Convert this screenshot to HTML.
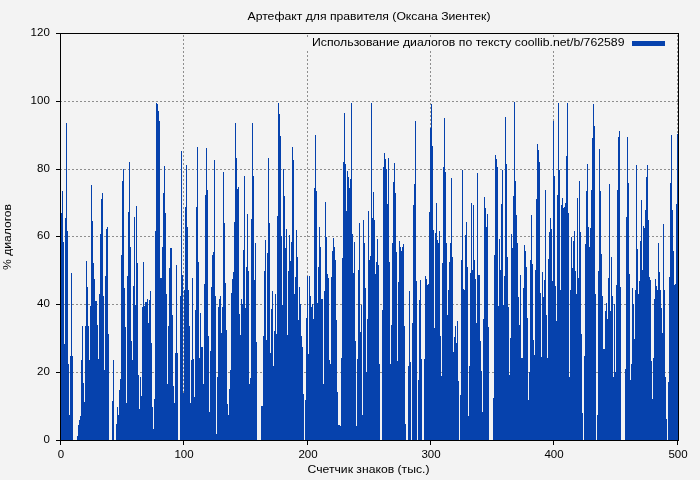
<!DOCTYPE html>
<html><head><meta charset="utf-8"><style>
html,body{margin:0;padding:0;background:#f3f3f3;}
svg{display:block}
.t{font-family:"Liberation Sans",sans-serif;font-size:11.5px;fill:#000}
</style></head><body>
<svg width="700" height="480" viewBox="0 0 700 480">
<rect x="0" y="0" width="700" height="480" fill="#f3f3f3"/>
<line x1="60" x2="678" y1="372.5" y2="372.5" stroke="#8e8e8e" stroke-width="1" stroke-dasharray="2 2" shape-rendering="crispEdges"/>
<line x1="60" x2="678" y1="304.5" y2="304.5" stroke="#8e8e8e" stroke-width="1" stroke-dasharray="2 2" shape-rendering="crispEdges"/>
<line x1="60" x2="678" y1="236.5" y2="236.5" stroke="#8e8e8e" stroke-width="1" stroke-dasharray="2 2" shape-rendering="crispEdges"/>
<line x1="60" x2="678" y1="169.5" y2="169.5" stroke="#8e8e8e" stroke-width="1" stroke-dasharray="2 2" shape-rendering="crispEdges"/>
<line x1="60" x2="678" y1="101.5" y2="101.5" stroke="#8e8e8e" stroke-width="1" stroke-dasharray="2 2" shape-rendering="crispEdges"/>
<line x1="183.5" x2="183.5" y1="441" y2="34" stroke="#8e8e8e" stroke-width="1" stroke-dasharray="2 2" shape-rendering="crispEdges"/>
<line x1="307.5" x2="307.5" y1="441" y2="34" stroke="#8e8e8e" stroke-width="1" stroke-dasharray="2 2" shape-rendering="crispEdges"/>
<line x1="430.5" x2="430.5" y1="441" y2="34" stroke="#8e8e8e" stroke-width="1" stroke-dasharray="2 2" shape-rendering="crispEdges"/>
<line x1="553.5" x2="553.5" y1="441" y2="34" stroke="#8e8e8e" stroke-width="1" stroke-dasharray="2 2" shape-rendering="crispEdges"/>
<line x1="677.5" x2="677.5" y1="441" y2="34" stroke="#8e8e8e" stroke-width="1" stroke-dasharray="2 2" shape-rendering="crispEdges"/>
<rect x="304" y="37" width="370" height="13.5" fill="#f3f3f3"/>
<path d="M61 441V213H62V191H63V242H64V344H65V218H66V123H67V231H68V364H69V415H70V356H71V273H72V356H73V441H74V441H75V441H76V441H77V436H78V425H79V420H80V416H81V360H82V326H83V383H84V402H85V326H86V261H87V287H88V326H89V360H90V306H91V185H92V221H93V263H94V279H95V301H96V301H97V325H98V359H99V294H100V234H101V199H102V193H103V296H104V370H105V276H106V229H107V227H108V334H109V441H110V441H111V441H112V401H113V360H114V441H115V441H116V424H117V407H118V415H119V390H120V379H121V255H122V181H123V169H124V288H125V327H126V403H127V276H128V212H129V162H130V247H131V341H132V360H133V286H134V217H135V305H136V206H137V263H138V375H139V409H140V377H141V396H142V307H143V262H144V306H145V302H146V302H147V299H148V323H149V300H150V291H151V343H152V407H153V429H154V399H155V231H156V103H157V104H158V111H159V121H160V278H161V278H162V247H163V193H164V166H165V213H166V294H167V384H168V326H169V268H170V248H171V248H172V315H173V386H174V403H175V353H176V265H177V353H178V441H179V441H180V296H181V151H182V275H183V393H184V290H185V207H186V165H187V227H188V290H189V326H190V403H191V360H192V278H193V359H194V397H195V310H196V207H197V147H198V262H199V358H200V313H201V347H202V347H203V384H204V284H205V195H206V148H207V190H208V336H209V412H210V351H211V287H212V255H213V252H214V160H215V296H216V434H217V377H218V307H219V299H220V296H221V333H222V307H223V172H224V223H225V283H226V330H227V404H228V415H229V389H230V370H231V293H232V279H233V272H234V222H235V123H236V158H237V189H238V187H239V314H240V335H241V299H242V304H243V250H244V176H245V308H246V267H247V214H248V271H249V384H250V378H251V219H252V123H253V176H254V280H255V243H256V342H257V441H258V441H259V441H260V441H261V406H262V406H263V336H264V271H265V240H266V340H267V253H268V158H269V223H270V353H271V309H272V291H273V366H274V331H275V294H276V334H277V216H278V103H279V114H280V136H281V236H282V305H283V169H284V196H285V248H286V229H287V335H288V271H289V235H290V261H291V242H292V147H293V160H294V294H295V277H296V230H297V257H298V320H299V287H300V304H301V336H302V347H303V394H304V441H305V400H306V318H307V276H308V354H309V276H310V296H311V307H312V304H313V319H314V188H315V135H316V191H317V303H318V267H319V227H320V247H321V299H322V299H323V384H324V291H325V202H326V237H327V274H328V278H329V360H330V364H331V277H332V251H333V238H334V247H335V260H336V320H337V392H338V425H339V425H340V426H341V358H342V258H343V162H344V113H345V164H346V211H347V171H348V177H349V188H350V179H351V103H352V234H353V273H354V242H355V341H356V426H357V359H358V270H359V223H360V332H361V305H362V415H363V220H364V243H365V288H366V372H367V319H368V211H369V260H370V256H371V103H372V218H373V192H374V220H375V274H376V262H377V239H378V265H379V364H380V441H381V441H382V310H383V167H384V153H385V159H386V169H387V204H388V158H389V262H390V364H391V325H392V243H393V182H394V163H395V193H396V252H397V361H398V282H399V241H400V247H401V251H402V247H403V244H404V326H405V424H406V441H407V441H408V366H409V291H410V362H411V441H412V323H413V205H414V184H415V121H416V281H417V441H418V380H419V300H420V280H421V359H422V441H423V441H424V359H425V276H426V279H427V285H428V284H429V212H430V128H431V104H432V146H433V230H434V328H435V233H436V203H437V240H438V243H439V231H440V336H441V376H442V263H443V167H444V118H445V172H446V243H447V315H448V290H449V262H450V243H451V178H452V257H453V352H454V337H455V326H456V343H457V321H458V381H459V441H460V395H461V260H462V170H463V289H464V290H465V235H466V222H467V267H468V416H469V366H470V273H471V203H472V270H473V205H474V260H475V279H476V323H477V173H478V275H479V275H480V341H481V371H482V412H483V319H484V197H485V208H486V227H487V214H488V327H489V441H490V441H491V441H492V441H493V398H494V255H495V155H496V159H497V167H498V306H499V239H500V270H501V204H502V170H503V305H504V276H505V117H506V164H507V257H508V307H509V375H510V338H511V234H512V248H513V196H514V102H515V181H516V215H517V243H518V297H519V325H520V275H521V358H522V358H523V288H524V245H525V251H526V267H527V318H528V400H529V372H530V260H531V215H532V264H533V340H534V355H535V270H536V199H537V144H538V150H539V162H540V293H541V357H542V272H543V297H544V280H545V190H546V315H547V358H548V259H549V232H550V218H551V229H552V281H553V121H554V176H555V286H556V321H557V195H558V103H559V170H560V290H561V205H562V198H563V208H564V207H565V203H566V156H567V103H568V213H569V377H570V290H571V237H572V268H573V241H574V231H575V271H576V294H577V198H578V278H579V181H580V232H581V334H582V413H583V441H584V356H585V244H586V191H587V164H588V227H589V247H590V228H591V190H592V138H593V104H594V126H595V294H596V441H597V415H598V271H599V149H600V191H601V254H602V296H603V349H604V349H605V311H606V303H607V319H608V278H609V184H610V311H611V257H612V296H613V377H614V304H615V372H616V285H617V190H618V137H619V131H620V287H621V441H622V441H623V441H624V441H625V369H626V217H627V137H628V183H629V274H630V380H631V364H632V288H633V304H634V339H635V290H636V165H637V249H638V294H639V281H640V241H641V200H642V270H643V226H644V228H645V210H646V177H647V165H648V220H649V277H650V280H651V361H652V399H653V358H654V299H655V279H656V286H657V290H658V243H659V272H660V290H661V308H662V333H663V224H664V290H665V377H666V419H667V441H668V382H669V277H670V183H671V135H672V210H673V251H674V285H675V284H676V204H677V134H678V441Z" fill="#0642ad" shape-rendering="crispEdges"/>
<path d="M60.5 33.5H678.5V440.5H60.5Z" fill="none" stroke="#000" stroke-width="1" shape-rendering="crispEdges"/>
<line x1="56" x2="60" y1="440.5" y2="440.5" stroke="#000" shape-rendering="crispEdges"/>
<line x1="56" x2="60" y1="372.5" y2="372.5" stroke="#000" shape-rendering="crispEdges"/>
<line x1="56" x2="60" y1="304.5" y2="304.5" stroke="#000" shape-rendering="crispEdges"/>
<line x1="56" x2="60" y1="236.5" y2="236.5" stroke="#000" shape-rendering="crispEdges"/>
<line x1="56" x2="60" y1="169.5" y2="169.5" stroke="#000" shape-rendering="crispEdges"/>
<line x1="56" x2="60" y1="101.5" y2="101.5" stroke="#000" shape-rendering="crispEdges"/>
<line x1="56" x2="60" y1="33.5" y2="33.5" stroke="#000" shape-rendering="crispEdges"/>
<line x1="60.5" x2="60.5" y1="441" y2="445" stroke="#000" shape-rendering="crispEdges"/>
<line x1="183.5" x2="183.5" y1="441" y2="445" stroke="#000" shape-rendering="crispEdges"/>
<line x1="307.5" x2="307.5" y1="441" y2="445" stroke="#000" shape-rendering="crispEdges"/>
<line x1="430.5" x2="430.5" y1="441" y2="445" stroke="#000" shape-rendering="crispEdges"/>
<line x1="553.5" x2="553.5" y1="441" y2="445" stroke="#000" shape-rendering="crispEdges"/>
<line x1="677.5" x2="677.5" y1="441" y2="445" stroke="#000" shape-rendering="crispEdges"/>
<rect x="632" y="41" width="33" height="5" fill="#0642ad" shape-rendering="crispEdges"/>
</svg>
<svg width="700" height="480" viewBox="0 0 700 480" style="position:absolute;left:0;top:0;will-change:transform;">
<text x="49.8" y="443.0" text-anchor="end" class="t">0</text>
<text x="49.8" y="375.0" text-anchor="end" class="t">20</text>
<text x="49.8" y="307.0" text-anchor="end" class="t">40</text>
<text x="49.8" y="239.0" text-anchor="end" class="t">60</text>
<text x="49.8" y="172.0" text-anchor="end" class="t">80</text>
<text x="49.8" y="104.0" text-anchor="end" class="t">100</text>
<text x="49.8" y="36.0" text-anchor="end" class="t">120</text>
<text x="61.0" y="458" text-anchor="middle" class="t">0</text>
<text x="184.0" y="458" text-anchor="middle" class="t">100</text>
<text x="308.0" y="458" text-anchor="middle" class="t">200</text>
<text x="431.0" y="458" text-anchor="middle" class="t">300</text>
<text x="554.0" y="458" text-anchor="middle" class="t">400</text>
<text x="678.0" y="458" text-anchor="middle" class="t">500</text>
<text x="247.5" y="20" class="t" textLength="243" lengthAdjust="spacingAndGlyphs">Артефакт для правителя (Оксана Зиентек)</text>
<text x="312" y="46" class="t" textLength="312.5" lengthAdjust="spacingAndGlyphs">Использование диалогов по тексту coollib.net/b/762589</text>
<text x="307.5" y="473" class="t" textLength="122" lengthAdjust="spacingAndGlyphs">Счетчик знаков (тыс.)</text>
<text transform="translate(11.2 270) rotate(-90)" class="t" textLength="66" lengthAdjust="spacingAndGlyphs">% диалогов</text>
</svg>
</body></html>
